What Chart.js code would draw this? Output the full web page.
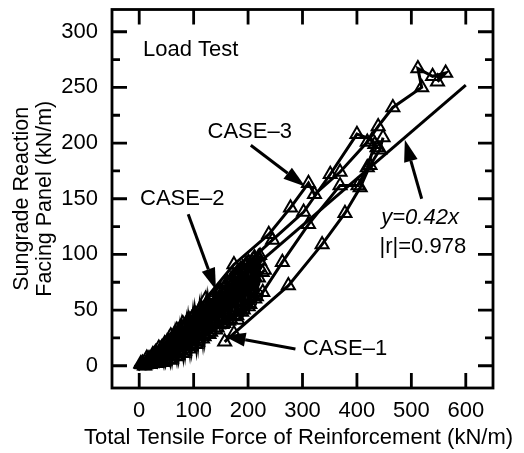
<!DOCTYPE html>
<html>
<head>
<meta charset="utf-8">
<script src="https://cdn.jsdelivr.net/npm/chart.js@4.4.1/dist/chart.umd.min.js"></script>
<style>
  html, body { margin: 0; padding: 0; background: #fff; }
  #wrap { width: 524px; height: 453px; }
</style>
</head>
<body>
<div id="wrap"><canvas id="c"></canvas></div>
<script>
const FONT = "'Liberation Sans', Arial, Helvetica, sans-serif";
const INK = '#000';

// axis ticks
const xTicks = [0, 100, 200, 300, 400, 500, 600];
const yTicks = [0, 50, 100, 150, 200, 250, 300];
const yMinor = [25, 75, 125, 175, 225, 275];
const xTitle = 'Total Tensile Force of Reinforcement (kN/m)';

// dense cluster near the origin (all cases overlap here)
const blobDia = [[0,0],[5,1],[11,3],[17,5],[24,7],[31,9],[38,12],[45,15],[53,18],[61,21],[69,25],[78,28],[87,32],[96,36],[105,40],[114,43],[124,47]];
const blobCirc = [[12,1],[24,2],[37,4],[49,7],[61,10],[73,13],[85,16],[97,19],[109,23],[121,27],[133,31],[145,35],[158,38],[170,42],[182,46],[194,51],[206,57],[218,64]];
const blobTriA = [[3,2],[14,7],[25,10],[36,16],[47,20],[58,27],[69,32],[80,38],[91,42],[102,47],[113,52],[124,56],[135,60],[146,66],[157,70],[168,77],[179,83],[190,88],[201,93],[212,97]];
const blobTriB = [[6,1],[17,5],[29,8],[40,13],[52,17],[63,22],[75,27],[86,31],[97,36],[109,41],[120,45],[131,50],[143,55],[154,60],[165,66],[176,72],[188,77],[199,83],[210,88],[221,94]];
const blobTriC = [[10,0],[22,3],[34,6],[46,10],[57,14],[69,17],[81,21],[92,25],[104,29],[115,33],[127,38],[138,42],[150,47],[161,52],[173,57],[184,63],[196,68],[207,73],[219,79],[230,86]];
const blobTriD = [[30,12],[44,11],[56,19],[70,20],[82,29],[96,30],[108,38],[122,40],[134,48],[148,50],[160,58],[174,61],[186,69],[200,72],[212,80],[226,84]];
// load–unload cycles that fill the cluster
const blobCycle = [[3,1],[9,0],[15,5],[21,1],[27,10],[33,2],[39,15],[45,3],[51,21],[57,5],[63,26],[69,8],[75,33],[81,11],[87,38],[93,15],[99,45],[105,19],[111,50],[117,24],[123,55],[129,28],[135,61],[141,32],[147,66],[153,37],[159,73],[165,40],[171,79],[177,44],[183,85],[189,48],[195,90],[201,53],[207,94],[213,60],[219,98]];
const blobCycle2 = [[6,3],[12,1],[18,7],[24,2],[30,12],[36,3],[42,17],[48,4],[54,23],[60,6],[66,29],[72,9],[78,35],[84,13],[90,41],[96,17],[102,47],[108,21],[114,52],[120,26],[126,57],[132,30],[138,63],[144,34],[150,68],[156,38],[162,75],[168,42],[174,81],[180,45],[186,87],[192,50],[198,92],[204,55],[210,96],[216,62],[222,99]];
const blobCycle3 = [[20,4],[26,7],[34,5],[40,11],[48,9],[55,16],[62,14],[70,23],[77,20],[85,30],[92,27],[100,36],[107,33],[115,42],[122,39],[130,47],[137,45],[145,53],[152,51],[160,58],[167,57],[175,64],[182,63],[190,70],[197,69],[205,76],[212,75]];

// branches leaving the cluster
const lineA = [[122,60],[174,91],[238,118],[278,142],[311,164],[322,154],[369,174],[419,201],[439,215],[466,232],[519,250],[512,267],[539,260],[563,263],[548,255]];
const lineB = [[196,91],[245,113],[302,138],[351,172],[400,208],[428,203],[437,196]];
const lineC = [[157,21.5],[174,29],[274,72],[336,109],[378,137],[406,160],[424,180],[442,194],[448,205]];
const lineD = [[181,41],[227,66],[263,93],[311,127],[369,162],[402,162],[419,178],[433,199]];

// regression y = 0.42x
const fitLine = [[0,0],[600,252]];

// annotations (data units)
const notes = [
  { text: 'Load Test', x: 7, y: 284, align: 'left' },
  { text: 'CASE\u20133', x: 203, y: 210 },
  { text: 'CASE\u20132', x: 79, y: 150 },
  { text: 'CASE\u20131', x: 378, y: 15 },
  { text: 'y=0.42x', x: 516, y: 133, italic: true },
  { text: '|r|=0.978', x: 521, y: 107 }
];
const arrows = [
  [205, 198, 305, 161],
  [90, 136, 141, 68],
  [287, 15, 155, 27],
  [519, 150, 488, 203]
];

const pts = (a) => a.map(([x, y]) => ({ x, y }));

function series(data, style, radius, w = 3) {
  return {
    data: pts(data), showLine: true,
    borderColor: INK, borderWidth: w,
    pointStyle: style, pointRadius: radius, pointHoverRadius: radius,
    pointBorderColor: INK, pointBorderWidth: 2, pointBackgroundColor: 'rgba(0,0,0,0)'
  };
}

function arrow(ctx, x1, y1, x2, y2) {
  const ang = Math.atan2(y2 - y1, x2 - x1);
  const L = 22, W = 7;
  const bx = x2 - Math.cos(ang) * L, by = y2 - Math.sin(ang) * L;
  ctx.beginPath(); ctx.moveTo(x1, y1); ctx.lineTo(bx, by); ctx.stroke();
  ctx.beginPath();
  ctx.moveTo(x2, y2);
  ctx.lineTo(bx + Math.sin(ang) * W, by - Math.cos(ang) * W);
  ctx.lineTo(bx - Math.sin(ang) * W, by + Math.cos(ang) * W);
  ctx.closePath(); ctx.fill();
}

const frame = {
  id: 'frame',
  afterDatasetsDraw(chart) {
    const { ctx, chartArea: a, scales: { x, y } } = chart;
    ctx.save();
    ctx.strokeStyle = INK; ctx.fillStyle = INK; ctx.lineWidth = 2.8;
    ctx.strokeRect(a.left, a.top, a.right - a.left, a.bottom - a.top);
    ctx.beginPath();
    xTicks.forEach((v) => {
      const p = x.getPixelForValue(v);
      ctx.moveTo(p, a.bottom); ctx.lineTo(p, a.bottom - 15);
      ctx.moveTo(p, a.top); ctx.lineTo(p, a.top + 15);
    });
    yTicks.forEach((v) => {
      const p = y.getPixelForValue(v);
      ctx.moveTo(a.left, p); ctx.lineTo(a.left + 15, p);
      ctx.moveTo(a.right, p); ctx.lineTo(a.right - 15, p);
    });
    yMinor.forEach((v) => {
      const p = y.getPixelForValue(v);
      ctx.moveTo(a.left, p); ctx.lineTo(a.left + 8, p);
      ctx.moveTo(a.right, p); ctx.lineTo(a.right - 8, p);
    });
    ctx.stroke();

    ctx.lineWidth = 3;
    arrows.forEach(([x1, y1, x2, y2]) => arrow(ctx,
      x.getPixelForValue(x1), y.getPixelForValue(y1), x.getPixelForValue(x2), y.getPixelForValue(y2)));

    ctx.textBaseline = 'middle';
    notes.forEach((n) => {
      ctx.font = (n.italic ? 'italic ' : '') + '22px ' + FONT;
      ctx.textAlign = n.align || 'center';
      ctx.fillText(n.text, x.getPixelForValue(n.x), y.getPixelForValue(n.y));
    });

    // x title is wider than the axis, so draw it here without squeezing
    ctx.font = '22px ' + FONT;
    ctx.textAlign = 'center';
    ctx.fillText(xTitle, (a.left + a.right) / 2 - 4, chart.height - 15);
    ctx.restore();
  }
};

const datasets = [
  series(blobDia, 'rectRot', 4),
  series(blobCycle, 'triangle', 7, 3.5),
  series(blobCycle2, 'triangle', 7, 3.5),
  series(blobCycle3, 'circle', 5, 3.5),
  series(blobCirc, 'circle', 5),
  series(blobTriA, 'triangle', 7.5),
  series(blobTriB, 'triangle', 7.5),
  series(blobTriC, 'triangle', 7.5),
  series(blobTriD, 'triangle', 7.5),
  series(lineA, 'triangle', 7.5),
  series(lineB, 'triangle', 7.5),
  series(lineC, 'triangle', 7.5),
  series(lineD, 'triangle', 7.5),
  { data: pts(fitLine), showLine: true, borderColor: INK, borderWidth: 3, pointRadius: 0 }
];

new Chart(document.getElementById('c'), {
  type: 'scatter',
  data: { datasets },
  options: {
    responsive: true, maintainAspectRatio: false, animation: false, events: [],
    layout: { padding: { top: 7, right: 31, left: 0, bottom: 0 } },
    plugins: { legend: { display: false }, tooltip: { enabled: false } },
    scales: {
      x: {
        type: 'linear', min: -50, max: 650,
        afterBuildTicks: (s) => { s.ticks = xTicks.map((v) => ({ value: v })); },
        afterFit: (s) => { s.height = 65; s.paddingLeft = 0; s.paddingRight = 0; },
        grid: { display: false, drawTicks: false }, border: { display: false },
        ticks: { font: { family: FONT, size: 22 }, color: INK, padding: 10, maxRotation: 0 },
        title: { display: false }
      },
      y: {
        type: 'linear', min: -20, max: 320,
        afterBuildTicks: (s) => { s.ticks = yTicks.map((v) => ({ value: v })); },
        afterFit: (s) => { s.width = 112; s.paddingTop = 0; s.paddingBottom = 0; },
        grid: { display: false, drawTicks: false }, border: { display: false },
        ticks: { font: { family: FONT, size: 22 }, color: INK, padding: 14 },
        title: { display: true, text: ['Sungrade Reaction', 'Facing Panel (kN/m)'], color: INK,
          font: { family: FONT, size: 21.5, lineHeight: 1.07 }, padding: { top: 10.5, bottom: 0 } }
      }
    }
  },
  plugins: [frame]
});
</script>
</body>
</html>
